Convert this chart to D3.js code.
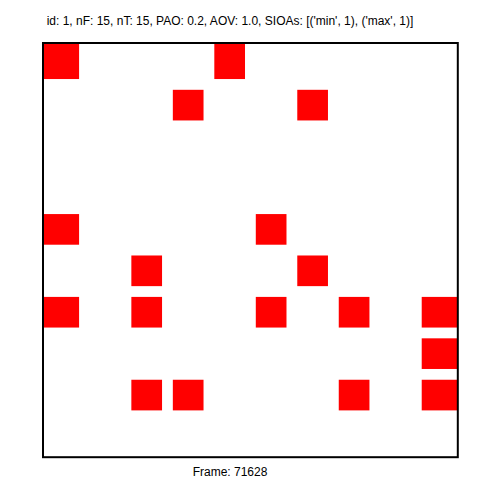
<!DOCTYPE html>
<html><head><meta charset="utf-8">
<script src="https://cdn.jsdelivr.net/npm/d3@7"></script>
<style>body{margin:0;background:#fff}svg{display:block}</style>
</head><body>
<script>
const titleText = "id: 1, nF: 15, nT: 15, PAO: 0.2, AOV: 1.0, SIOAs: [('min', 1), ('max', 1)]";
const footerText = "Frame: 71628";
const gridCols = [0,1,2,3,4,5,6,7,8,9];
const gridRows = [0,1,2,3,4,5,6,7,8,9];
// active cells: [column, row]
const cellCols = [0,4, 3,6, 0,5, 2,6, 0,2,5,7,9, 9, 2,3,7,9];
const cellRows = [0,0, 1,1, 4,4, 5,5, 6,6,6,6,6, 7, 8,8,8,8];

const W = 502, H = 502;
const L = 43, T = 43, R = 457.8, B = 457.2;
const svg = d3.select("body").append("svg").attr("width", W).attr("height", H);
svg.append("rect").attr("width", W).attr("height", H).attr("fill", "#fff");

const x = d3.scaleBand().domain(gridCols).range([L, R]);
const y = d3.scaleBand().domain(gridRows).range([T, B]);
const frac = 0.74;

const cells = cellCols.map((c, i) => ({c, r: cellRows[i]}));
svg.append("g").selectAll("rect").data(cells).join("rect")
  .attr("x", d => d.c === gridCols[0] ? L : x(d.c) + x.bandwidth()*(1-frac)/2)
  .attr("y", d => d.r === gridRows[0] ? T : y(d.r) + y.bandwidth()*(1-frac)/2)
  .attr("width", d => {
    const x0 = d.c === gridCols[0] ? L : x(d.c) + x.bandwidth()*(1-frac)/2;
    const x1 = d.c === gridCols[gridCols.length-1] ? R : x(d.c) + x.bandwidth()*(1+frac)/2;
    return x1 - x0;
  })
  .attr("height", d => {
    const y0 = d.r === gridRows[0] ? T : y(d.r) + y.bandwidth()*(1-frac)/2;
    const y1 = d.r === gridRows[gridRows.length-1] ? B : y(d.r) + y.bandwidth()*(1+frac)/2;
    return y1 - y0;
  })
  .attr("fill", "#ff0000");

svg.append("rect").attr("x", L).attr("y", T).attr("width", R - L).attr("height", B - T)
  .attr("fill", "none").attr("stroke", "#000").attr("stroke-width", 2);

svg.append("text").attr("x", 230).attr("y", 25).attr("text-anchor", "middle")
  .attr("font-family", "Liberation Sans, Arial, sans-serif").attr("font-size", 12)
  .attr("fill", "#000").text(titleText);
svg.append("text").attr("x", 230).attr("y", 476).attr("text-anchor", "middle")
  .attr("font-family", "Liberation Sans, Arial, sans-serif").attr("font-size", 12)
  .attr("fill", "#000").text(footerText);
</script>
</body></html>
